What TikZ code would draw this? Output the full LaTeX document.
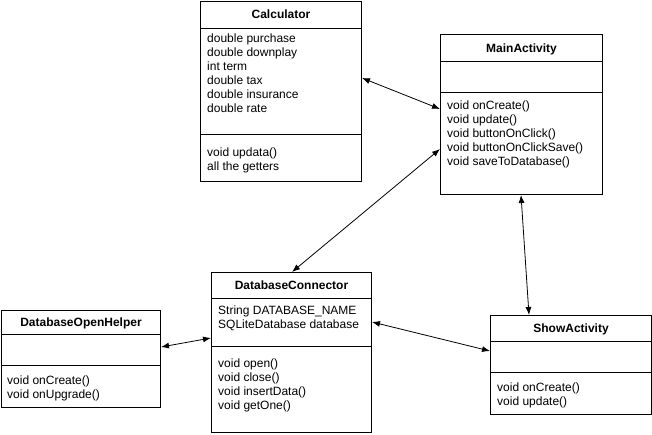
\documentclass[tikz,border=0pt]{standalone}
\usepackage{fontspec}
\setmainfont{Liberation Sans}
\usetikzlibrary{arrows.meta}
\begin{document}
\begin{tikzpicture}[x=1pt,y=-1pt,
  classbox/.style={draw=black, line width=1pt, fill=white, inner sep=0pt, anchor=north west},
  hdr/.style={anchor=base, inner sep=0pt, font=\fontsize{12}{14}\selectfont\bfseries},
  members/.style={anchor=north west, inner sep=0pt, align=left,
    font=\fontsize{12}{14}\selectfont, execute at begin node=\strut},
  divider/.style={line width=1pt},
  assoc/.style={line width=0.8pt, {Latex[length=8pt,width=6pt]}-{Latex[length=8pt,width=6pt]}}]
\useasboundingbox[fill=white] (0,0) rectangle (652,434);

% Calculator
\node[classbox, minimum width=161pt, minimum height=180pt] (calc) at (200,1) {};
\draw[divider] ([yshift=-27pt]calc.north west) -- ([yshift=-27pt]calc.north east);
\draw[divider] ([yshift=-133pt]calc.north west) -- ([yshift=-133pt]calc.north east);
\node[hdr] (calcT) at ([yshift=-17pt]calc.north) {Calculator};
\node[members] (calcA) at ([xshift=7pt,yshift=-33pt]calc.north west)
  {double purchase\\double downplay\\int term\\double tax\\double insurance\\double rate};
\node[members] (calcM) at ([xshift=7pt,yshift=-147pt]calc.north west)
  {void updata()\\all the getters};

% MainActivity
\node[classbox, minimum width=162pt, minimum height=160pt] (main) at (440,34) {};
\draw[divider] ([yshift=-27pt]main.north west) -- ([yshift=-27pt]main.north east);
\draw[divider] ([yshift=-58pt]main.north west) -- ([yshift=-58pt]main.north east);
\node[hdr] (mainT) at ([yshift=-18pt]main.north) {MainActivity};
\node[members] (mainM) at ([xshift=7pt,yshift=-67pt]main.north west)
  {void onCreate()\\void update()\\void buttonOnClick()\\void buttonOnClickSave()\\void saveToDatabase()};

% DatabaseConnector
\node[classbox, minimum width=160pt, minimum height=160pt] (conn) at (211,272) {};
\draw[divider] ([yshift=-26pt]conn.north west) -- ([yshift=-26pt]conn.north east);
\draw[divider] ([yshift=-74pt]conn.north west) -- ([yshift=-74pt]conn.north east);
\node[hdr] (connT) at ([yshift=-17pt]conn.north) {DatabaseConnector};
\node[members] (connA) at ([xshift=7pt,yshift=-34pt]conn.north west)
  {String DATABASE\_NAME\\SQLiteDatabase database};
\node[members] (connM) at ([xshift=7pt,yshift=-87pt]conn.north west)
  {void open()\\void close()\\void insertData()\\void getOne()};

% DatabaseOpenHelper
\node[classbox, minimum width=159pt, minimum height=97pt] (helper) at (1,310) {};
\draw[divider] ([yshift=-24pt]helper.north west) -- ([yshift=-24pt]helper.north east);
\draw[divider] ([yshift=-55pt]helper.north west) -- ([yshift=-55pt]helper.north east);
\node[hdr] (helperT) at ([yshift=-16pt]helper.north) {DatabaseOpenHelper};
\node[members] (helperM) at ([xshift=6pt,yshift=-66pt]helper.north west)
  {void onCreate()\\void onUpgrade()};

% ShowActivity
\node[classbox, minimum width=161pt, minimum height=99pt] (show) at (490,315) {};
\draw[divider] ([yshift=-26pt]show.north west) -- ([yshift=-26pt]show.north east);
\draw[divider] ([yshift=-57pt]show.north west) -- ([yshift=-57pt]show.north east);
\node[hdr] (showT) at ([yshift=-17pt]show.north) {ShowActivity};
\node[members] (showM) at ([xshift=7pt,yshift=-68pt]show.north west)
  {void onCreate()\\void update()};

% Associations
\draw[assoc] ([yshift=-77pt]calc.north east) -- ([yshift=-75pt]main.north west);
\draw[assoc] ([yshift=-115pt]main.north west) -- ([xshift=81pt]conn.north west);
\draw[assoc] ([xshift=81pt]main.south west) -- ([xshift=39pt]show.north west);
\draw[assoc] ([yshift=-37pt]helper.north east) -- ([yshift=-66pt]conn.north west);
\draw[assoc] ([yshift=-50pt]conn.north east) -- ([yshift=-36pt]show.north west);
\end{tikzpicture}
\end{document}
